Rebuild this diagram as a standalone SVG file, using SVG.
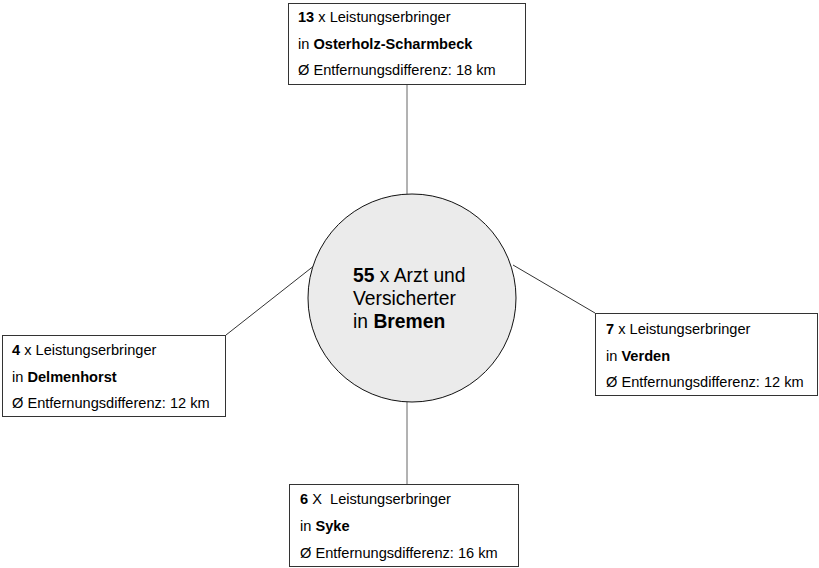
<svg xmlns="http://www.w3.org/2000/svg" width="819" height="568" viewBox="0 0 819 568">
<style>
  .box { fill: #ffffff; stroke: #333333; stroke-width: 1; }
  .conn { stroke: #333333; stroke-width: 1; fill: none; }
  .vconn { stroke: #666666; stroke-width: 1; fill: none; }
  .t { font-family: "Liberation Sans", Arial, sans-serif; font-size: 14.6px; fill: #000000; white-space: pre; }
  .c { font-family: "Liberation Sans", Arial, sans-serif; font-size: 19.3px; fill: #000000; }
  .b { font-weight: bold; }
</style>
<rect width="819" height="568" fill="#ffffff"/>
<g id="connectors">
  <line class="vconn" x1="407" y1="84" x2="407" y2="194"/>
  <line class="vconn" x1="407" y1="402" x2="407" y2="484"/>
  <line class="conn" x1="226" y1="335" x2="315" y2="265"/>
  <line class="conn" x1="513" y1="265" x2="595" y2="313"/>
</g>
<g id="center">
  <circle cx="412" cy="298" r="104" fill="#ebebeb" stroke="#111111" stroke-width="1"/>
  <text class="c" x="353" y="281.7"><tspan class="b">55</tspan> x Arzt und</text>
  <text class="c" x="353" y="305">Versicherter</text>
  <text class="c" x="353" y="328.3">in <tspan class="b">Bremen</tspan></text>
</g>
<g id="osterholz">
  <rect class="box" x="288.5" y="3.5" width="237" height="81"/>
  <text class="t" x="298" y="22"><tspan class="b">13</tspan> x Leistungserbringer</text>
  <text class="t" x="298" y="49">in <tspan class="b">Osterholz-Scharmbeck</tspan></text>
  <text class="t" x="298" y="75">Ø Entfernungsdifferenz: 18 km</text>
</g>
<g id="delmenhorst">
  <rect class="box" x="2.5" y="335.5" width="223" height="81"/>
  <text class="t" x="12" y="355"><tspan class="b">4</tspan> x Leistungserbringer</text>
  <text class="t" x="12" y="382">in <tspan class="b">Delmenhorst</tspan></text>
  <text class="t" x="12" y="408">Ø Entfernungsdifferenz: 12 km</text>
</g>
<g id="verden">
  <rect class="box" x="595.5" y="313.5" width="222" height="82"/>
  <text class="t" x="606" y="334"><tspan class="b">7</tspan> x Leistungserbringer</text>
  <text class="t" x="606" y="361">in <tspan class="b">Verden</tspan></text>
  <text class="t" x="606" y="387">Ø Entfernungsdifferenz: 12 km</text>
</g>
<g id="syke">
  <rect class="box" x="289.5" y="484.5" width="229" height="82"/>
  <text class="t" x="300" y="504"><tspan class="b">6</tspan> X  Leistungserbringer</text>
  <text class="t" x="300" y="531">in <tspan class="b">Syke</tspan></text>
  <text class="t" x="300" y="558">Ø Entfernungsdifferenz: 16 km</text>
</g>
</svg>
